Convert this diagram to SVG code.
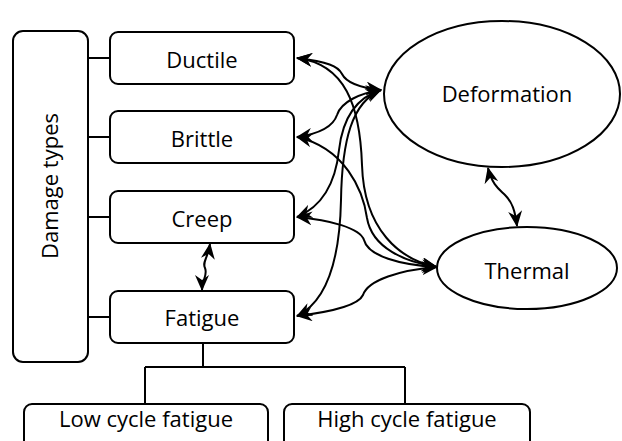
<svg xmlns="http://www.w3.org/2000/svg" width="622" height="441" viewBox="0 0 622 441">
<style>
.box{fill:#fff;stroke:#000;stroke-width:2}
.t{font-family:"Open Sans","Liberation Sans",sans-serif;font-size:22px;fill:#000;text-anchor:middle}
.ln{fill:none;stroke:#000;stroke-width:2}
.ar{fill:none;stroke:#000;stroke-width:2;marker-start:url(#ah);marker-end:url(#ah)}
</style>
<defs>
<marker id="ah" viewBox="0 0 16 14" refX="15" refY="7" markerWidth="16" markerHeight="14" markerUnits="userSpaceOnUse" orient="auto-start-reverse">
<path d="M0,0 L16,7 L0,14 L5,7 z" fill="#000"/>
</marker>
</defs>
<g id="damage-types"><rect class="box" x="13" y="31" width="75" height="331" rx="10"/><text class="t" transform="translate(58,186) rotate(-90)">Damage types</text></g>
<g id="ductile"><rect class="box" x="110" y="32" width="184" height="52" rx="8"/><text class="t" x="202" y="68">Ductile</text></g>
<g id="brittle"><rect class="box" x="110" y="111" width="184" height="52" rx="8"/><text class="t" x="202" y="147">Brittle</text></g>
<g id="creep"><rect class="box" x="110" y="191" width="184" height="52" rx="8"/><text class="t" x="202" y="227">Creep</text></g>
<g id="fatigue"><rect class="box" x="110" y="291" width="184" height="52" rx="8"/><text class="t" x="202" y="326">Fatigue</text></g>
<g id="low-cycle"><rect class="box" x="24" y="404" width="244" height="50" rx="8"/><text class="t" x="146" y="427">Low cycle fatigue</text></g>
<g id="high-cycle"><rect class="box" x="284" y="404" width="246" height="50" rx="8"/><text class="t" x="407" y="427">High cycle fatigue</text></g>
<g id="deformation"><ellipse class="box" cx="502" cy="94" rx="118" ry="73"/><text class="t" x="507" y="102">Deformation</text></g>
<g id="thermal"><ellipse class="box" cx="527" cy="268" rx="90" ry="41"/><text class="t" x="527" y="279">Thermal</text></g>
<g id="connectors">
<path class="ln" d="M88,58 H110 M88,137 H110 M88,217 H110 M88,317 H110"/>
<path class="ln" d="M203,343 V367 M145,367 H405 M145,367 V404 M405,367 V404"/>
<path class="ar" d="M297,58 C328,62 338,66 342,74 C347,84 362,88 381,90"/>
<path class="ar" d="M297,137 C325,133 334,124 337,115 C341,102 360,93 381,90"/>
<path class="ar" d="M297,217 C326,205 336,178 339,150 C343,115 358,97 381,90"/>
<path class="ar" d="M297,316 C330,300 340,250 341,200 C342,140 352,102 381,90"/>
<path class="ar" d="M297,58 C345,64 360,105 362,165 C364,230 400,260 437,267"/>
<path class="ar" d="M297,137 C345,148 363,190 367,218 C372,248 405,262 437,267"/>
<path class="ar" d="M297,217 C330,220 360,228 364,240 C368,256 400,265 437,267"/>
<path class="ar" d="M297,316 C330,312 358,306 363,295 C368,280 400,270 437,267"/>
<path class="ar" d="M488,168 C492,185 500,190 505,195 C512,202 515,210 517,226"/>
<path class="ar" d="M210,244 C208,258 202,262 205,268 C208,275 202,280 202,290"/>
</g>
</svg>
